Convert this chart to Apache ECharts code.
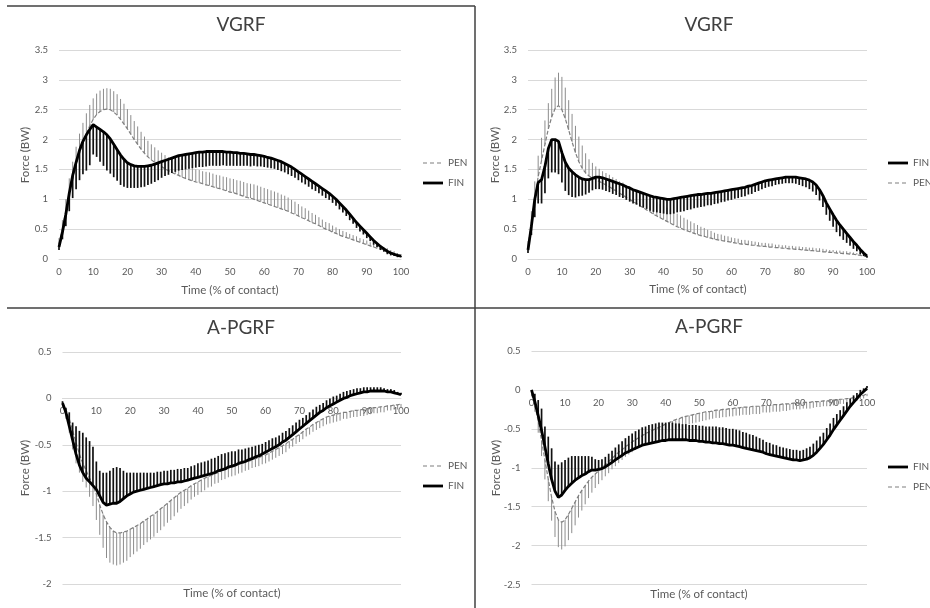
<!DOCTYPE html>
<html><head><meta charset="utf-8">
<script src="https://cdn.jsdelivr.net/npm/echarts@6/dist/echarts.min.js"></script>
<style>html,body{margin:0;padding:0;background:#fff}#c{width:930px;height:608px}</style>
</head><body><div id="c"></div>
<script>
// Time axis (% of contact), one point per percent
const TIME = Array.from({length: 101}, (_, i) => i);

// ---------- VGRF (left panel) ----------
const VGRF_L_FIN_MEAN = [0.20,
0.45,0.75,1.10,1.40,1.62,1.82,1.97,2.08,2.17,2.25,
2.21,2.17,2.13,2.08,2.01,1.92,1.83,1.74,1.67,1.61,
1.58,1.56,1.55,1.55,1.55,1.56,1.57,1.59,1.61,1.63,
1.65,1.67,1.69,1.71,1.73,1.74,1.75,1.76,1.77,1.78,
1.79,1.79,1.80,1.80,1.80,1.80,1.80,1.80,1.79,1.79,
1.78,1.78,1.77,1.77,1.76,1.75,1.75,1.74,1.73,1.72,
1.70,1.69,1.67,1.65,1.63,1.60,1.57,1.54,1.50,1.46,
1.42,1.38,1.34,1.30,1.26,1.22,1.18,1.14,1.10,1.05,
1.00,0.94,0.88,0.82,0.75,0.68,0.61,0.55,0.49,0.43,
0.37,0.31,0.26,0.21,0.17,0.13,0.10,0.08,0.06,0.05];
const VGRF_L_FIN_SD = [0.05,
0.12,0.20,0.30,0.38,0.45,0.50,0.55,0.60,0.60,0.50,
0.50,0.54,0.57,0.60,0.58,0.55,0.52,0.50,0.46,0.42,
0.39,0.37,0.36,0.35,0.34,0.32,0.31,0.30,0.29,0.27,
0.26,0.26,0.25,0.25,0.25,0.25,0.25,0.25,0.25,0.25,
0.25,0.25,0.25,0.24,0.24,0.24,0.24,0.23,0.23,0.23,
0.22,0.22,0.21,0.21,0.20,0.20,0.19,0.19,0.18,0.18,
0.17,0.17,0.16,0.16,0.16,0.15,0.15,0.15,0.14,0.14,
0.14,0.13,0.13,0.13,0.12,0.12,0.12,0.12,0.11,0.11,
0.11,0.11,0.10,0.10,0.10,0.09,0.09,0.09,0.08,0.08,
0.07,0.07,0.06,0.06,0.05,0.05,0.04,0.03,0.03,0.02];
const VGRF_L_PEN_MEAN = [0.25,
0.50,0.80,1.10,1.35,1.58,1.78,1.95,2.10,2.23,2.34,
2.42,2.47,2.50,2.51,2.50,2.46,2.41,2.34,2.26,2.18,
2.09,2.00,1.92,1.84,1.77,1.71,1.66,1.62,1.58,1.55,
1.51,1.48,1.45,1.42,1.40,1.37,1.35,1.33,1.31,1.29,
1.28,1.26,1.24,1.23,1.21,1.19,1.18,1.16,1.14,1.12,
1.11,1.09,1.07,1.05,1.03,1.02,1.00,0.98,0.96,0.94,
0.92,0.90,0.88,0.86,0.84,0.82,0.80,0.77,0.75,0.72,
0.69,0.67,0.64,0.61,0.59,0.56,0.53,0.50,0.48,0.45,
0.43,0.40,0.38,0.36,0.34,0.32,0.30,0.28,0.26,0.24,
0.22,0.20,0.18,0.17,0.15,0.13,0.11,0.09,0.07,0.05];
const VGRF_L_PEN_SD = [0.10,
0.15,0.20,0.25,0.28,0.30,0.32,0.33,0.34,0.35,0.35,
0.35,0.35,0.35,0.35,0.35,0.35,0.35,0.34,0.34,0.33,
0.32,0.31,0.30,0.29,0.28,0.27,0.26,0.25,0.24,0.23,
0.23,0.22,0.22,0.22,0.21,0.21,0.21,0.21,0.21,0.21,
0.21,0.21,0.22,0.22,0.22,0.22,0.22,0.22,0.23,0.23,
0.23,0.23,0.24,0.24,0.24,0.24,0.25,0.25,0.25,0.25,
0.25,0.25,0.25,0.25,0.24,0.24,0.23,0.22,0.21,0.20,
0.19,0.18,0.17,0.16,0.15,0.14,0.13,0.12,0.12,0.11,
0.10,0.10,0.09,0.09,0.08,0.08,0.08,0.07,0.07,0.07,
0.06,0.06,0.06,0.05,0.05,0.05,0.04,0.04,0.03,0.03];

// ---------- VGRF (right panel) ----------
const VGRF_R_FIN_MEAN = [0.15,
0.55,1.00,1.28,1.33,1.55,1.85,2.00,2.00,1.97,1.78,
1.62,1.52,1.46,1.41,1.37,1.34,1.33,1.33,1.35,1.37,
1.37,1.36,1.34,1.32,1.30,1.28,1.26,1.24,1.21,1.19,
1.16,1.14,1.12,1.10,1.08,1.06,1.04,1.03,1.02,1.01,
1.00,1.00,1.01,1.02,1.03,1.04,1.05,1.06,1.07,1.08,
1.08,1.09,1.10,1.10,1.11,1.12,1.13,1.14,1.15,1.16,
1.17,1.18,1.19,1.20,1.22,1.23,1.25,1.27,1.29,1.31,
1.32,1.33,1.34,1.35,1.36,1.37,1.37,1.37,1.37,1.36,
1.35,1.34,1.32,1.29,1.24,1.16,1.06,0.94,0.84,0.74,
0.65,0.57,0.50,0.43,0.36,0.29,0.23,0.16,0.10,0.05];
const VGRF_R_FIN_SD = [0.05,
0.15,0.30,0.35,0.40,0.45,0.50,0.55,0.55,0.55,0.50,
0.48,0.45,0.42,0.38,0.32,0.28,0.25,0.22,0.20,0.20,
0.20,0.20,0.20,0.20,0.21,0.21,0.22,0.22,0.22,0.23,
0.23,0.23,0.24,0.24,0.24,0.25,0.25,0.25,0.25,0.25,
0.25,0.25,0.25,0.24,0.24,0.24,0.23,0.23,0.22,0.22,
0.21,0.21,0.20,0.20,0.19,0.19,0.18,0.18,0.17,0.17,
0.16,0.16,0.15,0.15,0.14,0.14,0.13,0.13,0.12,0.12,
0.11,0.11,0.10,0.10,0.10,0.10,0.10,0.10,0.11,0.12,
0.13,0.14,0.15,0.16,0.17,0.18,0.19,0.20,0.20,0.20,
0.20,0.19,0.18,0.16,0.14,0.12,0.10,0.08,0.05,0.03];
const VGRF_R_PEN_MEAN = [0.20,
0.60,1.00,1.38,1.65,1.92,2.18,2.38,2.52,2.57,2.50,
2.35,2.16,1.96,1.78,1.63,1.52,1.44,1.39,1.36,1.33,
1.30,1.27,1.24,1.21,1.17,1.14,1.10,1.07,1.03,1.00,
0.96,0.93,0.89,0.86,0.82,0.79,0.75,0.72,0.69,0.66,
0.63,0.60,0.57,0.54,0.52,0.49,0.47,0.45,0.43,0.41,
0.39,0.38,0.36,0.35,0.33,0.32,0.31,0.30,0.29,0.28,
0.27,0.26,0.25,0.25,0.24,0.23,0.23,0.22,0.21,0.21,
0.20,0.20,0.19,0.19,0.18,0.18,0.17,0.17,0.16,0.16,
0.15,0.15,0.14,0.14,0.13,0.13,0.12,0.12,0.11,0.11,
0.10,0.10,0.09,0.09,0.08,0.08,0.07,0.06,0.05,0.04];
const VGRF_R_PEN_SD = [0.10,
0.20,0.30,0.35,0.38,0.40,0.43,0.47,0.52,0.55,0.55,
0.52,0.50,0.47,0.45,0.42,0.38,0.33,0.28,0.25,0.22,
0.21,0.20,0.20,0.20,0.20,0.20,0.20,0.21,0.21,0.21,
0.21,0.21,0.22,0.22,0.22,0.22,0.22,0.23,0.23,0.23,
0.23,0.23,0.22,0.22,0.21,0.20,0.19,0.18,0.17,0.16,
0.15,0.14,0.13,0.12,0.11,0.10,0.10,0.09,0.09,0.08,
0.08,0.08,0.07,0.07,0.07,0.07,0.06,0.06,0.06,0.06,
0.06,0.06,0.05,0.05,0.05,0.05,0.05,0.05,0.05,0.05,
0.05,0.05,0.05,0.05,0.05,0.05,0.05,0.04,0.04,0.04,
0.04,0.04,0.04,0.04,0.04,0.03,0.03,0.03,0.03,0.02];

// ---------- A-PGRF (left panel) ----------
const APGRF_L_FIN_MEAN = [-0.05,
-0.15,-0.30,-0.45,-0.60,-0.72,-0.80,-0.86,-0.90,-0.94,-0.98,
-1.05,-1.12,-1.15,-1.14,-1.13,-1.13,-1.11,-1.08,-1.05,-1.03,
-1.01,-1.00,-0.99,-0.98,-0.97,-0.96,-0.95,-0.94,-0.93,-0.92,
-0.92,-0.91,-0.91,-0.90,-0.90,-0.89,-0.88,-0.87,-0.86,-0.85,
-0.84,-0.83,-0.82,-0.81,-0.80,-0.78,-0.77,-0.76,-0.74,-0.73,
-0.72,-0.70,-0.69,-0.68,-0.66,-0.65,-0.63,-0.62,-0.60,-0.58,
-0.56,-0.54,-0.52,-0.50,-0.47,-0.45,-0.42,-0.39,-0.36,-0.33,
-0.30,-0.27,-0.24,-0.21,-0.18,-0.15,-0.13,-0.10,-0.08,-0.06,
-0.04,-0.02,0.00,0.01,0.03,0.04,0.05,0.06,0.07,0.07,
0.08,0.08,0.08,0.08,0.08,0.07,0.07,0.06,0.05,0.04];
const APGRF_L_FIN_SD = [0.02,
0.05,0.15,0.19,0.30,0.37,0.43,0.44,0.44,0.42,0.30,
0.27,0.32,0.35,0.36,0.38,0.39,0.36,0.30,0.25,0.23,
0.21,0.20,0.19,0.18,0.17,0.16,0.15,0.15,0.14,0.14,
0.14,0.14,0.14,0.14,0.14,0.14,0.13,0.14,0.14,0.15,
0.15,0.15,0.15,0.16,0.16,0.16,0.17,0.17,0.16,0.16,
0.15,0.15,0.14,0.14,0.13,0.13,0.12,0.12,0.11,0.11,
0.11,0.11,0.10,0.10,0.10,0.10,0.10,0.10,0.10,0.10,
0.09,0.09,0.09,0.09,0.09,0.08,0.08,0.08,0.08,0.08,
0.07,0.07,0.07,0.07,0.06,0.06,0.06,0.05,0.05,0.05,
0.04,0.04,0.04,0.04,0.03,0.03,0.03,0.03,0.02,0.02];
const APGRF_L_PEN_MEAN = [-0.05,
-0.12,-0.22,-0.35,-0.48,-0.60,-0.70,-0.78,-0.86,-0.94,-1.03,
-1.15,-1.25,-1.33,-1.39,-1.43,-1.45,-1.45,-1.44,-1.43,-1.41,
-1.39,-1.37,-1.35,-1.32,-1.30,-1.27,-1.25,-1.22,-1.19,-1.16,
-1.13,-1.10,-1.07,-1.04,-1.01,-0.99,-0.97,-0.94,-0.92,-0.90,
-0.88,-0.86,-0.84,-0.83,-0.81,-0.80,-0.78,-0.77,-0.75,-0.74,
-0.73,-0.71,-0.70,-0.69,-0.68,-0.66,-0.65,-0.64,-0.62,-0.61,
-0.59,-0.57,-0.55,-0.53,-0.51,-0.49,-0.46,-0.44,-0.41,-0.39,
-0.36,-0.33,-0.31,-0.28,-0.26,-0.24,-0.22,-0.20,-0.19,-0.18,
-0.17,-0.16,-0.15,-0.15,-0.14,-0.13,-0.13,-0.12,-0.12,-0.11,
-0.11,-0.10,-0.10,-0.09,-0.09,-0.08,-0.08,-0.07,-0.07,-0.06];
const APGRF_L_PEN_SD = [0.05,
0.10,0.15,0.20,0.22,0.20,0.20,0.18,0.20,0.22,0.28,
0.32,0.36,0.39,0.38,0.36,0.35,0.34,0.33,0.32,0.30,
0.29,0.28,0.27,0.26,0.25,0.25,0.24,0.23,0.23,0.22,
0.21,0.21,0.20,0.19,0.18,0.17,0.16,0.15,0.14,0.14,
0.13,0.13,0.12,0.12,0.11,0.11,0.10,0.10,0.10,0.10,
0.10,0.10,0.10,0.09,0.09,0.09,0.09,0.09,0.09,0.09,
0.09,0.09,0.09,0.09,0.09,0.09,0.08,0.08,0.08,0.08,
0.08,0.08,0.08,0.08,0.08,0.08,0.08,0.08,0.08,0.08,
0.08,0.08,0.07,0.07,0.07,0.07,0.07,0.07,0.07,0.07,
0.06,0.06,0.06,0.06,0.06,0.05,0.05,0.05,0.05,0.04];

// ---------- A-PGRF (right panel) ----------
const APGRF_R_FIN_MEAN = [0.00,
-0.15,-0.33,-0.52,-0.73,-0.95,-1.15,-1.30,-1.38,-1.35,-1.29,
-1.24,-1.20,-1.16,-1.13,-1.10,-1.08,-1.05,-1.03,-1.03,-1.02,
-1.01,-0.99,-0.96,-0.93,-0.90,-0.87,-0.84,-0.81,-0.79,-0.77,
-0.75,-0.73,-0.71,-0.70,-0.69,-0.68,-0.67,-0.66,-0.65,-0.65,
-0.64,-0.64,-0.64,-0.64,-0.64,-0.64,-0.65,-0.65,-0.65,-0.66,
-0.66,-0.67,-0.67,-0.68,-0.68,-0.69,-0.69,-0.70,-0.71,-0.71,
-0.72,-0.73,-0.74,-0.75,-0.76,-0.77,-0.78,-0.79,-0.80,-0.82,
-0.83,-0.84,-0.85,-0.86,-0.87,-0.88,-0.89,-0.90,-0.90,-0.91,
-0.90,-0.89,-0.87,-0.84,-0.80,-0.75,-0.70,-0.64,-0.58,-0.51,
-0.45,-0.39,-0.33,-0.27,-0.21,-0.16,-0.11,-0.06,-0.02,0.02];
const APGRF_R_FIN_SD = [0.00,
0.10,0.20,0.28,0.26,0.35,0.40,0.38,0.42,0.42,0.39,
0.37,0.35,0.31,0.28,0.25,0.23,0.20,0.17,0.14,0.12,
0.12,0.13,0.14,0.15,0.16,0.17,0.18,0.19,0.20,0.21,
0.22,0.22,0.23,0.23,0.24,0.24,0.24,0.24,0.23,0.23,
0.22,0.22,0.21,0.21,0.20,0.20,0.20,0.20,0.20,0.20,
0.20,0.20,0.20,0.21,0.21,0.21,0.21,0.21,0.21,0.21,
0.21,0.21,0.20,0.20,0.19,0.19,0.18,0.17,0.16,0.15,
0.15,0.14,0.14,0.13,0.13,0.13,0.13,0.13,0.13,0.13,
0.13,0.14,0.14,0.15,0.15,0.15,0.15,0.15,0.15,0.15,
0.14,0.13,0.12,0.11,0.10,0.09,0.07,0.06,0.04,0.03];
const APGRF_R_PEN_MEAN = [-0.05,
-0.20,-0.40,-0.65,-0.90,-1.15,-1.38,-1.56,-1.67,-1.70,-1.67,
-1.60,-1.52,-1.44,-1.36,-1.29,-1.23,-1.17,-1.12,-1.08,-1.04,
-1.00,-0.96,-0.92,-0.88,-0.84,-0.80,-0.77,-0.73,-0.70,-0.67,
-0.64,-0.61,-0.59,-0.56,-0.54,-0.52,-0.50,-0.48,-0.46,-0.44,
-0.42,-0.40,-0.38,-0.37,-0.35,-0.34,-0.33,-0.32,-0.31,-0.30,
-0.29,-0.28,-0.28,-0.27,-0.26,-0.26,-0.25,-0.25,-0.24,-0.24,
-0.23,-0.23,-0.22,-0.22,-0.22,-0.21,-0.21,-0.21,-0.20,-0.20,
-0.20,-0.19,-0.19,-0.19,-0.18,-0.18,-0.18,-0.17,-0.17,-0.17,
-0.16,-0.16,-0.16,-0.15,-0.15,-0.15,-0.14,-0.14,-0.14,-0.13,
-0.13,-0.12,-0.12,-0.11,-0.11,-0.10,-0.09,-0.08,-0.07,-0.05];
const APGRF_R_PEN_SD = [0.03,
0.08,0.15,0.20,0.25,0.28,0.30,0.33,0.35,0.35,0.34,
0.33,0.32,0.30,0.28,0.26,0.24,0.22,0.20,0.18,0.17,
0.16,0.15,0.15,0.14,0.14,0.14,0.13,0.13,0.13,0.13,
0.13,0.13,0.13,0.13,0.13,0.13,0.13,0.12,0.12,0.12,
0.12,0.12,0.12,0.11,0.11,0.11,0.11,0.11,0.11,0.11,
0.11,0.11,0.10,0.10,0.10,0.10,0.10,0.10,0.10,0.10,
0.10,0.10,0.10,0.10,0.10,0.10,0.10,0.10,0.09,0.09,
0.09,0.09,0.09,0.09,0.09,0.09,0.08,0.08,0.08,0.08,
0.08,0.08,0.08,0.08,0.07,0.07,0.07,0.07,0.07,0.07,
0.06,0.06,0.06,0.06,0.05,0.05,0.05,0.04,0.04,0.03];

// Axis ranges / labels
const Y_RANGES = [[0, 3.5], [0, 3.5], [-2, 0.5], [-2.5, 0.5]];
const PANEL_TITLES = ['VGRF', 'VGRF', 'A-PGRF', 'A-PGRF'];
const X_NAME = 'Time (% of contact)';
const Y_NAME = 'Force (BW)';
const GROUPS = ['PEN', 'FIN'];

// ---------- layout (not data) ----------
const FONT = 'Lato';
const panels = [
  {grid:{left:59, top:50, width:342, height:209}, fin:[VGRF_L_FIN_MEAN,VGRF_L_FIN_SD], pen:[VGRF_L_PEN_MEAN,VGRF_L_PEN_SD],
   finDir:-1, penDir:1, legend:['PEN','FIN'], legendPos:[423,163], titlePos:[241,25], xNamePos:[230,290], yNamePos:[25,155]},
  {grid:{left:528, top:50, width:339, height:209}, fin:[VGRF_R_FIN_MEAN,VGRF_R_FIN_SD], pen:[VGRF_R_PEN_MEAN,VGRF_R_PEN_SD],
   finDir:-1, penDir:1, legend:['FIN','PEN'], legendPos:[888,163], titlePos:[709,25], xNamePos:[698,289], yNamePos:[495,155]},
  {grid:{left:62.5, top:352, width:338.5, height:232}, fin:[APGRF_L_FIN_MEAN,APGRF_L_FIN_SD], pen:[APGRF_L_PEN_MEAN,APGRF_L_PEN_SD],
   finDir:1, penDir:-1, legend:['PEN','FIN'], legendPos:[423,466], titlePos:[241,328], xNamePos:[232,593], yNamePos:[25,468]},
  {grid:{left:531.5, top:351, width:335.5, height:233.5}, fin:[APGRF_R_FIN_MEAN,APGRF_R_FIN_SD], pen:[APGRF_R_PEN_MEAN,APGRF_R_PEN_SD],
   finDir:1, penDir:-1, legend:['FIN','PEN'], legendPos:[888,467], titlePos:[709,327], xNamePos:[699,594], yNamePos:[496,468]}
];
const STYLE = {
  PEN: {line:{color:'#7f7f7f', width:1.2, type:[4,2]}, bar:'#8c8c8c', barW:1},
  FIN: {line:{color:'#000', width:2.8, type:'solid'}, bar:'#111', barW:1.7}
};

function errBar(dir, color, width) {
  return function (params, api) {
    const x = api.value(0), m = api.value(1), s = api.value(2);
    const a = api.coord([x, m]);
    const b = api.coord([x, m + dir * s]);
    return {type:'line', shape:{x1:a[0], y1:a[1], x2:b[0], y2:b[1]},
            style:{stroke:color, lineWidth:width}};
  };
}

const grids = [], xAxes = [], yAxes = [], series = [], graphics = [];
panels.forEach((p, k) => {
  grids.push(p.grid);
  const [ymin, ymax] = Y_RANGES[k];
  // put the x axis where y = 0 (Excel "axis crosses at 0")
  const zeroOffset = p.grid.height * (0 - ymin) / (ymax - ymin);
  xAxes.push({type:'value', gridIndex:k, min:0, max:100, interval:10, position:'bottom', offset:-zeroOffset,
    axisLine:{show:true, onZero:false, lineStyle:{color:'#d9d9d9', width:1}},
    axisTick:{show:false}, splitLine:{show:false},
    axisLabel:{fontSize:9.5, color:'#595959', margin:8, fontFamily:FONT}});
  yAxes.push({type:'value', gridIndex:k, min:ymin, max:ymax, interval:0.5,
    axisLine:{show:false}, axisTick:{show:false},
    splitLine:{show:true, lineStyle:{color:'#d9d9d9', width:1}},
    axisLabel:{fontSize:9.5, color:'#595959', margin:11, fontFamily:FONT}});
  const grp = {PEN:{d:p.pen, dir:p.penDir}, FIN:{d:p.fin, dir:p.finDir}};
  GROUPS.forEach((g, gi) => {
    const st = STYLE[g], d = grp[g].d;
    series.push({type:'custom', name:g + ' SD', xAxisIndex:k, yAxisIndex:k, silent:true,
      renderItem:errBar(grp[g].dir, st.bar, st.barW),
      data:TIME.map(i => [TIME[i], d[0][i], d[1][i]]), encode:{x:0, y:1}, z:1 + gi * 2});
    series.push({type:'line', name:g, xAxisIndex:k, yAxisIndex:k, silent:true, symbol:'none', showSymbol:false,
      data:TIME.map(i => [TIME[i], d[0][i]]), lineStyle:st.line, itemStyle:{color:st.line.color}, z:2 + gi * 2});
  });
  // legend (drawn as graphics: line sample + label)
  p.legend.forEach((g, r) => {
    const y = p.legendPos[1] + r * 20, x = p.legendPos[0], st = STYLE[g];
    graphics.push({type:'line', silent:true, shape:{x1:x, y1:y, x2:x + 20, y2:y},
      style:{stroke:st.line.color, lineWidth:g === 'FIN' ? 2.8 : 1.2, lineDash:g === 'PEN' ? [4,3] : null}});
    graphics.push({type:'text', silent:true, x:x + 25, y:y,
      style:{text:g, fill:'#595959', font:'10px ' + FONT, align:'left', verticalAlign:'middle'}});
  });
  graphics.push({type:'text', x:p.titlePos[0], y:p.titlePos[1], silent:true,
    style:{text:PANEL_TITLES[k], fill:'#404040', font:'19px ' + FONT, align:'center', verticalAlign:'middle'}});
  graphics.push({type:'text', x:p.xNamePos[0], y:p.xNamePos[1], silent:true,
    style:{text:X_NAME, fill:'#595959', font:'11.5px ' + FONT, align:'center', verticalAlign:'middle'}});
  graphics.push({type:'text', x:p.yNamePos[0], y:p.yNamePos[1], rotation:Math.PI / 2, silent:true,
    style:{text:Y_NAME, fill:'#595959', font:'11.5px ' + FONT, align:'center', verticalAlign:'middle'}});
});
// panel borders
graphics.push({type:'line', silent:true, shape:{x1:7, y1:6, x2:475, y2:6}, style:{stroke:'#404040', lineWidth:1.5}});
graphics.push({type:'line', silent:true, shape:{x1:475, y1:6, x2:475, y2:608}, style:{stroke:'#404040', lineWidth:1.5}});
graphics.push({type:'line', silent:true, shape:{x1:7, y1:308, x2:930, y2:308}, style:{stroke:'#404040', lineWidth:1.5}});

const chart = echarts.init(document.getElementById('c'), null, {renderer:'canvas'});
chart.setOption({
  animation:false,
  backgroundColor:'#fff',
  textStyle:{fontFamily:FONT},
  grid:grids, xAxis:xAxes, yAxis:yAxes, series:series, graphic:graphics
});
</script></body></html>
